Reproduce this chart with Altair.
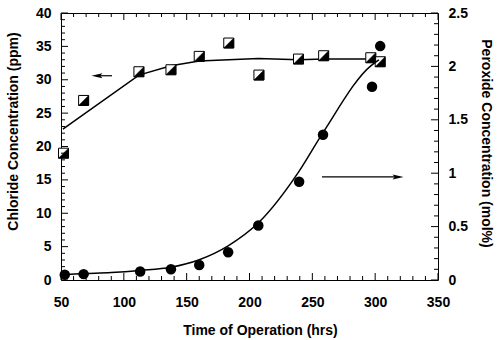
import altair as alt
import pandas as pd

# ---- data ----
cl_hrs = [52, 68, 112, 137.5, 160, 183.5, 207.5, 239, 259, 296.5, 304]
cl_ppm = [19.0, 26.9, 31.2, 31.5, 33.5, 35.5, 30.7, 33.1, 33.6, 33.3, 32.7]

cl_fit_hrs = [51.5, 112, 137.5, 160, 207, 239, 259, 297, 303]
cl_fit_ppm = [22.6, 30.7, 32.1, 32.8, 33.2, 33.0, 33.1, 33.1, 33.1]

px_hrs = [53, 68, 113, 137.5, 160, 183, 207, 239.5, 258.5, 297.5, 304]
px_mol = [0.05, 0.055, 0.08, 0.10, 0.14, 0.26, 0.51, 0.92, 1.36, 1.81, 2.19]

px_fit_hrs = [51, 68, 90, 113, 137.5, 160, 183, 207.5, 239, 258.5, 297, 303]
px_fit_mol = [0.05, 0.06, 0.07, 0.09, 0.12, 0.19, 0.32, 0.54, 1.01, 1.38, 2.01, 2.06]

# annotation arrows (start, end of shaft; head at end)
left_arrow_hrs = [90.6, 78.6]
left_arrow_ppm = [30.6, 30.6]
right_arrow_hrs = [257.7, 318.2]
right_arrow_mol = [0.965, 0.965]

x_ticks = [50, 100, 150, 200, 250, 300, 350]
x_minor = [v for v in range(50, 351, 10) if v % 50 != 0]
ppm_ticks = [0, 5, 10, 15, 20, 25, 30, 35, 40]
ppm_minor = [v for v in range(0, 41) if v % 5 != 0]
mol_ticks = [0, 0.5, 1, 1.5, 2, 2.5]
mol_minor = [round(v * 0.1, 1) for v in range(0, 26) if v % 5 != 0]

W, H = 377, 267
FONT = "Liberation Sans"
MAJ, MIN = 7, 4

x_axis = alt.Axis(values=x_ticks, ticks=False, tickSize=0, domain=False, grid=False,
                  labelFlush=False, labelOverlap=False,
                  labelFont=FONT, labelFontSize=14, labelFontWeight="bold", labelPadding=15,
                  labelColor="black", title="Time of Operation (hrs)", titleFont=FONT,
                  titleFontSize=14, titleFontWeight="bold", titleColor="black",
                  titleX=199, titleY=50, titleBaseline="middle", titleAlign="center",
                  titleAnchor="middle")
X = alt.X("hrs:Q", scale=alt.Scale(domain=[50, 350], nice=False, zero=False), axis=x_axis)

ppm_axis = alt.Axis(values=ppm_ticks, ticks=False, tickSize=0, domain=False, grid=False,
                    labelFlush=False, labelOverlap=False,
                    orient="left", labelFont=FONT, labelFontSize=14, labelFontWeight="bold",
                    labelPadding=10, labelColor="black", labelBaseline="middle",
                    title="Chloride Concentration (ppm)", titleFont=FONT, titleFontSize=14,
                    titleFontWeight="bold", titleColor="black", titleAngle=-90,
                    titleX=-48, titleY=118, titleBaseline="middle", titleAlign="center")
Y_L = alt.Y("ppm:Q", scale=alt.Scale(domain=[0, 40], nice=False), axis=ppm_axis)

mol_axis = alt.Axis(values=mol_ticks, ticks=False, tickSize=0, domain=False, grid=False,
                    labelFlush=False, labelOverlap=False, format="~g",
                    orient="right", labelFont=FONT, labelFontSize=14, labelFontWeight="bold",
                    labelPadding=10, labelColor="black", labelBaseline="middle",
                    title="Peroxide Concentration (mol%)", titleFont=FONT, titleFontSize=14,
                    titleFontWeight="bold", titleColor="black", titleAngle=90,
                    titleX=47, titleY=130, titleBaseline="middle", titleAlign="center")
Y_R = alt.Y("mol:Q", scale=alt.Scale(domain=[0, 2.5], nice=False), axis=mol_axis)

# ---- tables ----
cl_df = pd.DataFrame({"hrs": cl_hrs, "ppm": cl_ppm})
cl_fit_df = pd.DataFrame({"hrs": cl_fit_hrs, "ppm": cl_fit_ppm})
px_df = pd.DataFrame({"hrs": px_hrs, "mol": px_mol})
px_fit_df = pd.DataFrame({"hrs": px_fit_hrs, "mol": px_fit_mol})
la_df = pd.DataFrame({"hrs": [left_arrow_hrs[0]], "hrs2": [left_arrow_hrs[1]], "ppm": [left_arrow_ppm[0]]})
la_head = pd.DataFrame({"hrs": [left_arrow_hrs[1]], "ppm": [left_arrow_ppm[1]]})
ra_df = pd.DataFrame({"hrs": [right_arrow_hrs[0]], "hrs2": [right_arrow_hrs[1]], "mol": [right_arrow_mol[0]]})
ra_head = pd.DataFrame({"hrs": [right_arrow_hrs[1]], "mol": [right_arrow_mol[1]]})

TRI = "M1,-1 L1,1 L-1,1 Z"
HEAD_L = "M-1,0 L1,-0.45 L0.6,0 L1,0.45 Z"
HEAD_R = "M1,0 L-1,-0.45 L-0.6,0 L-1,0.45 Z"


def xticks(vals, length):
    d = pd.DataFrame({"hrs": vals})
    b = alt.Chart(d).mark_rule(color="black", strokeWidth=1).encode(
        x=X, y=alt.value(H), y2=alt.value(H - length))
    t = alt.Chart(d).mark_rule(color="black", strokeWidth=1).encode(
        x=X, y=alt.value(0), y2=alt.value(length))
    return [b, t]


def lticks(vals, length):
    d = pd.DataFrame({"ppm": vals})
    return alt.Chart(d).mark_rule(color="black", strokeWidth=1).encode(
        y=Y_L, x=alt.value(0), x2=alt.value(length))


def rticks(vals, length):
    d = pd.DataFrame({"mol": vals})
    return alt.Chart(d).mark_rule(color="black", strokeWidth=1).encode(
        y=Y_R, x=alt.value(W), x2=alt.value(W - length))


left = alt.layer(
    alt.Chart(cl_fit_df).mark_line(color="black", strokeWidth=1.5).encode(x=X, y=Y_L),
    alt.Chart(cl_df).mark_point(shape="square", size=100, filled=True, fill="white",
                                stroke="black", strokeWidth=1, opacity=1).encode(x=X, y=Y_L),
    alt.Chart(cl_df).mark_point(shape=TRI, size=100, filled=True, fill="black",
                                stroke="black", strokeWidth=0.5, opacity=1).encode(x=X, y=Y_L),
    alt.Chart(la_df).mark_rule(color="black", strokeWidth=1.2).encode(
        x=X, x2="hrs2:Q", y=Y_L),
    alt.Chart(la_head).mark_point(shape=HEAD_L, size=120, filled=True, fill="black",
                                  opacity=1).encode(x=X, y=Y_L),
    *xticks(x_ticks, MAJ), *xticks(x_minor, MIN),
    lticks(ppm_ticks, MAJ), lticks(ppm_minor, MIN),
)

right = alt.layer(
    alt.Chart(px_fit_df).mark_line(color="black", strokeWidth=1.5, interpolate="monotone").encode(x=X, y=Y_R),
    alt.Chart(px_df).mark_point(shape="circle", size=110, filled=True, fill="black",
                                opacity=1).encode(x=X, y=Y_R),
    alt.Chart(ra_df).mark_rule(color="black", strokeWidth=1.2).encode(
        x=X, x2="hrs2:Q", y=Y_R),
    alt.Chart(ra_head).mark_point(shape=HEAD_R, size=120, filled=True, fill="black",
                                  opacity=1).encode(x=X, y=Y_R),
    rticks(mol_ticks, MAJ), rticks(mol_minor, MIN),
)

chart = alt.layer(left, right).resolve_scale(y="independent").properties(
    width=W, height=H,
    autosize=alt.AutoSizeParams(type="none"),
    padding={"left": 61, "top": 13, "right": 62, "bottom": 60},
    background="white",
).configure_view(stroke="black", strokeWidth=1)

chart.save("out.html", embed_options={"renderer": "svg", "actions": False})
